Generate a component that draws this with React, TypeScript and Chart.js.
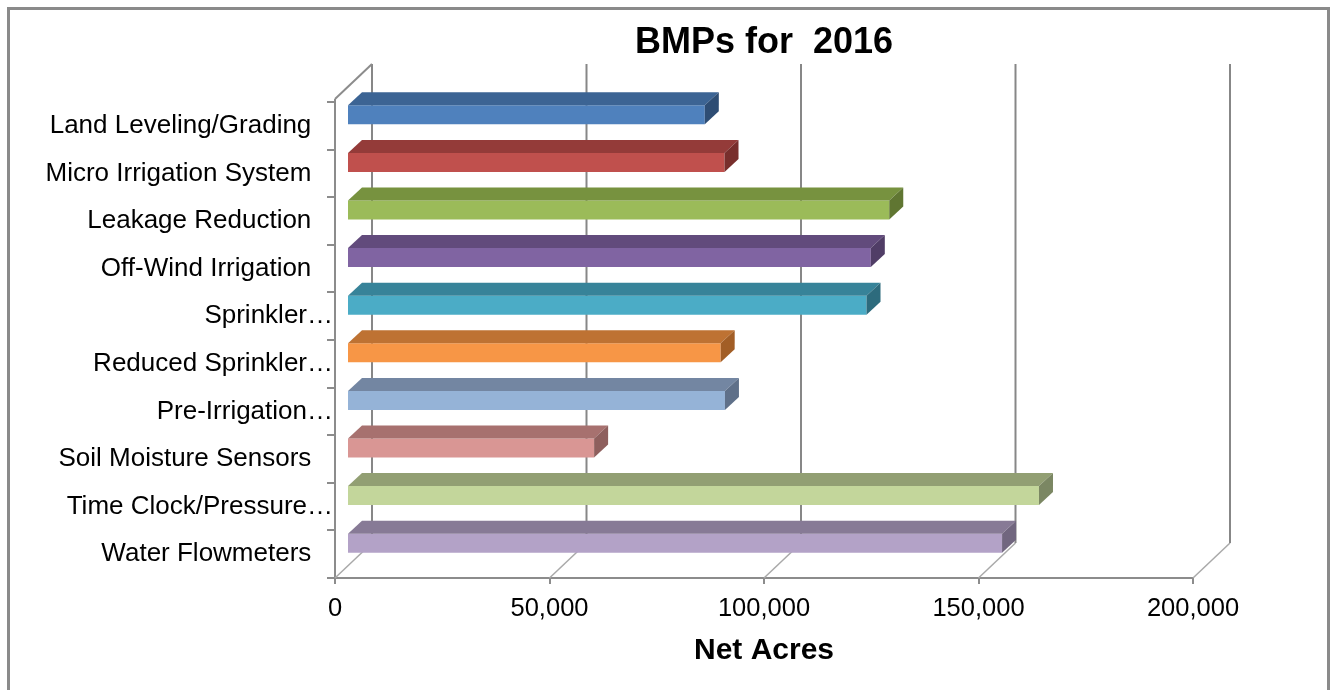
import React, { useEffect, useRef } from 'react';
import { Chart, registerables } from 'chart.js';

Chart.register(...registerables);

// ---- data ----
const categories = [
  'Land Leveling/Grading',
  'Micro Irrigation System',
  'Leakage Reduction',
  'Off-Wind Irrigation',
  'Sprinkler…',
  'Reduced Sprinkler…',
  'Pre-Irrigation…',
  'Soil Moisture Sensors',
  'Time Clock/Pressure…',
  'Water Flowmeters',
];
const netAcres = [83400, 88000, 126400, 122100, 121100, 87100, 88100, 57600, 161300, 152700];
const xTicks = [0, 50000, 100000, 150000, 200000];
const chartTitle = 'BMPs for  2016';
const xAxisTitle = 'Net Acres';

// ---- styles ----
const frontColors = ['#4F81BD', '#C0504D', '#9BBB59', '#8064A2', '#4BACC6', '#F79646', '#95B3D7', '#D99694', '#C3D69B', '#B3A2C7'];
const topColors = ['#3C6494', '#943B39', '#77923F', '#624B7C', '#378399', '#BE7233', '#7386A2', '#A7716F', '#929F73', '#877A96'];
const sideColors = ['#2E4D74', '#782E2C', '#607632', '#503D66', '#2D6B7D', '#A25E26', '#5F7089', '#8E5F5D', '#7B8763', '#71667F'];

const FONT = '"Liberation Sans", Arial, Helvetica, sans-serif';
const FRONT_DX = 12;
const FRONT_DY = -11;
const BAR_DX = 14;
const BAR_DY = -13;
const WALL_DX = 37;
const WALL_DY = -35;

const threeD = {
  id: 'threeD',
  beforeDraw(chart: any) {
    const { ctx, width, height } = chart;
    ctx.save();
    ctx.fillStyle = '#ffffff';
    ctx.fillRect(0, 0, width, height);
    ctx.strokeStyle = '#8a8a8a';
    ctx.lineWidth = 3;
    ctx.beginPath();
    ctx.moveTo(8.5, height + 5);
    ctx.lineTo(8.5, 8.5);
    ctx.lineTo(1328.5, 8.5);
    ctx.lineTo(1328.5, height + 5);
    ctx.stroke();
    ctx.restore();
  },
  beforeDatasetsDraw(chart: any) {
    const { ctx, chartArea: a, scales } = chart;
    const x = scales.x;
    const line = (x1: number, y1: number, x2: number, y2: number) => {
      ctx.beginPath();
      ctx.moveTo(x1, y1);
      ctx.lineTo(x2, y2);
      ctx.stroke();
    };
    const wallTop = a.top + WALL_DY - 3;
    ctx.save();
    // floor lines
    ctx.strokeStyle = '#a9a9a9';
    ctx.lineWidth = 1.5;
    for (const v of xTicks) {
      const px = x.getPixelForValue(v);
      line(px, a.bottom, px + WALL_DX, a.bottom + WALL_DY);
    }
    // back wall gridlines
    ctx.strokeStyle = '#878787';
    ctx.lineWidth = 2;
    for (const v of xTicks) {
      const px = x.getPixelForValue(v) + WALL_DX;
      line(px, wallTop, px, a.bottom + WALL_DY);
    }
    // side wall top edge
    ctx.strokeStyle = '#8c8c8c';
    line(a.left, a.top - 3, a.left + WALL_DX, wallTop);
    line(a.left, a.top - 3, a.left, a.top + 1);
    ctx.restore();
    // shift the bars into the depth of the plot
    ctx.save();
    ctx.translate(FRONT_DX, FRONT_DY);
  },
  afterDatasetsDraw(chart: any) {
    const { ctx } = chart;
    const meta = chart.getDatasetMeta(0);
    meta.data.forEach((el: any, i: number) => {
      const { x, y, base, height } = el.getProps(['x', 'y', 'base', 'height'], true);
      const top = y - height / 2;
      const bottom = y + height / 2;
      const left = Math.min(base, x);
      const right = Math.max(base, x);
      ctx.fillStyle = topColors[i % topColors.length];
      ctx.beginPath();
      ctx.moveTo(left, top);
      ctx.lineTo(left + BAR_DX, top + BAR_DY);
      ctx.lineTo(right + BAR_DX, top + BAR_DY);
      ctx.lineTo(right, top);
      ctx.closePath();
      ctx.fill();
      ctx.fillStyle = sideColors[i % sideColors.length];
      ctx.beginPath();
      ctx.moveTo(right, top);
      ctx.lineTo(right + BAR_DX, top + BAR_DY);
      ctx.lineTo(right + BAR_DX, bottom + BAR_DY);
      ctx.lineTo(right, bottom);
      ctx.closePath();
      ctx.fill();
    });
    ctx.restore();
  },
};

export default function App() {
  const ref = useRef<HTMLCanvasElement | null>(null);

  useEffect(() => {
    document.body.style.margin = '0';
    const canvas = ref.current;
    if (!canvas) return;
    const chart = new Chart(canvas, {
      type: 'bar',
      data: {
        labels: categories,
        datasets: [
          {
            label: xAxisTitle,
            data: netAcres,
            backgroundColor: frontColors,
            borderWidth: 0,
            barPercentage: 0.4,
            categoryPercentage: 1,
          },
        ],
      },
      plugins: [threeD],
      options: {
        indexAxis: 'y',
        responsive: false,
        animation: false,
        layout: { padding: { left: 0, right: 142, top: 0, bottom: 0 } },
        plugins: {
          legend: { display: false },
          tooltip: { enabled: false },
          title: {
            display: true,
            text: chartTitle,
            fullSize: false,
            color: '#000',
            font: { family: FONT, size: 36, weight: 'bold' },
            padding: { top: 21, bottom: 37.8 },
          },
        },
        scales: {
          x: {
            type: 'linear',
            position: 'bottom',
            min: 0,
            max: 200000,
            afterFit: (s: any) => {
              s.height = 112;
            },
            grid: { drawOnChartArea: false, drawTicks: true, tickLength: 6, color: '#8c8c8c', lineWidth: 2 },
            border: { display: true, color: '#8c8c8c', width: 2 },
            ticks: {
              stepSize: 50000,
              padding: 10,
              color: '#000',
              maxRotation: 0,
              autoSkip: false,
              font: { family: FONT, size: 25.5 },
              callback: (v: any) => Number(v).toLocaleString('en-US'),
            },
            title: {
              display: true,
              text: xAxisTitle,
              color: '#000',
              font: { family: FONT, size: 30, weight: 'bold' },
              padding: { top: 0, bottom: 21 },
            },
          },
          y: {
            type: 'category',
            afterFit: (s: any) => {
              s.width = 335;
            },
            grid: { drawOnChartArea: false, drawTicks: true, tickLength: 8, color: '#8c8c8c', lineWidth: 2, offset: true },
            border: { display: true, color: '#8c8c8c', width: 2 },
            ticks: {
              padding: -6,
              color: '#000',
              autoSkip: false,
              font: { family: FONT, size: 26 },
              callback: (_v: any, i: number) => {
                const s = categories[i];
                return s.endsWith('…') ? s : s + '   ';
              },
            },
          },
        },
      } as any,
    });
    return () => chart.destroy();
  }, []);

  return (
    <div style={{ width: 1335, height: 690 }}>
      <canvas ref={ref} width={1335} height={690} style={{ display: 'block' }} />
    </div>
  );
}
